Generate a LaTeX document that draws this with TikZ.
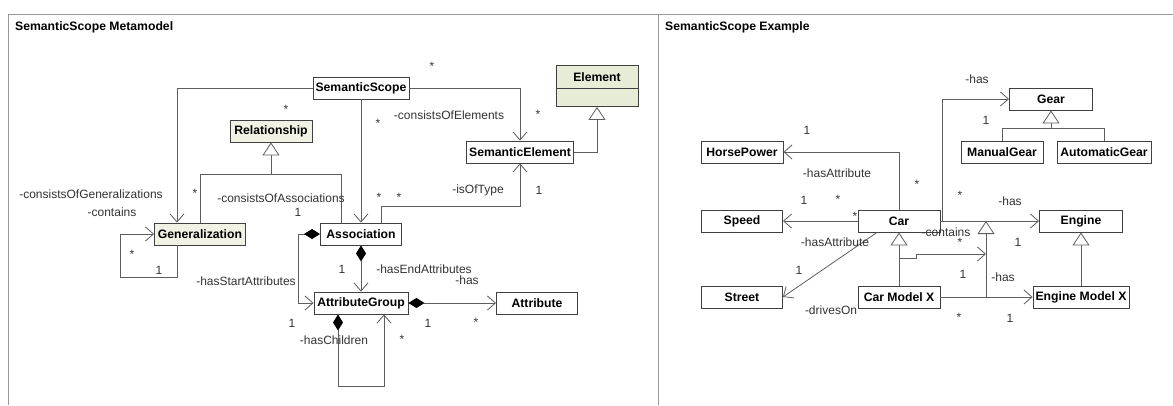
\documentclass[tikz,border=0pt]{standalone}
\usepackage{fontspec}
\setmainfont{Liberation Sans}
\usepackage{tikz}
\usetikzlibrary{arrows.meta}
\definecolor{elemfill}{HTML}{E6ECD6}
\definecolor{metafill}{HTML}{F1F2E4}
\definecolor{linegray}{HTML}{5E5E5E}
\tikzset{
    classbox/.style={
        rectangle,
        draw=black!75, line width=0.9pt,
        fill=white,
        minimum height=22pt,
        inner sep=1pt,
        font={\fontsize{12.2}{14}\selectfont\bfseries}
    },
    metabox/.style={classbox, fill=metafill},
    title/.style={anchor=west, inner sep=0pt, font={\fontsize{12.2}{14}\selectfont\bfseries}},
    role/.style={inner sep=0pt, text=black!80, font={\fontsize{12}{14}\selectfont}},
    mult/.style={role},
    line/.style={draw=linegray, line width=0.8pt},
    assoc/.style={line, -{Straight Barb[length=8pt, width=14pt]}},
    genarrow/.style={line, -{Triangle[open, length=13pt, width=17pt, fill=white]}},
    comp/.style={line, {Diamond[length=16pt, width=10pt, color=black]}-{Straight Barb[length=8pt, width=14pt]}},
    frame/.style={draw=black!40, line width=1pt},
}

\begin{document}
\begin{tikzpicture}[x=1pt, y=-1pt]

\useasboundingbox (0,0) rectangle (1173,405);
\fill[white] (0,0) rectangle (1173,405);

% panels
\draw[frame] (8,405) -- (8,14) -- (1173,14);
\draw[frame] (658,14) -- (658,405);
\node[title] (title-meta) at (15,27) {SemanticScope Metamodel};
\node[title] (title-example) at (665,27) {SemanticScope Example};

% metamodel
\node[classbox, minimum width=96] (semscope) at (361,88) {SemanticScope};
\node[classbox, fill=elemfill, minimum width=82, minimum height=41] (element) at (597,86) {};
\node[classbox, draw=none, fill=none] (element-name) at ([yshift=9pt]element.center) {Element};
\draw[draw=black!75, line width=0.9pt] ([yshift=-2pt]element.west) -- ([yshift=-2pt]element.east);
\node[metabox, minimum width=82] (relationship) at (271,131) {Relationship};
\node[classbox, minimum width=107] (semelement) at (520,152) {SemanticElement};
\node[metabox, minimum width=91] (generalization) at (200,234) {Generalization};
\node[classbox, minimum width=81] (association) at (361,234) {Association};
\node[classbox, minimum width=94] (attrgroup) at (361,303) {AttributeGroup};
\node[classbox, minimum width=81] (attribute) at (537,303) {Attribute};

\coordinate (reljoin) at (271,174);

\draw[assoc] (semscope.west) -| ([xshift=-23pt]generalization.north);
\draw[assoc] ([xshift=-23pt]generalization.south) -- ++(0,32) -- ++(-57,0) |- (generalization.west);
\draw[assoc] (semscope.south) -- (association.north);
\draw[assoc] (semscope.east) -| (semelement.north);
\draw[genarrow] (semelement.east) -| (element.south);
\draw[genarrow] (generalization.north) |- (reljoin) -- (relationship.south);
\draw[line] ([xshift=-20pt]association.north) |- (reljoin);
\draw[assoc] ([xshift=20pt]association.north) -- ++(0,-16) -| (semelement.south);
\draw[comp] (association.west) -- ++(-22,0) |- (attrgroup.west);
\draw[comp] (association.south) -- (attrgroup.north);
\draw[comp] (attrgroup.east) -- (attribute.west);
\draw[comp] ([xshift=-23pt]attrgroup.south) -- ++(0,72) -| ([xshift=23pt]attrgroup.south);

\foreach \px/\py/\r [count=\i] in {91/194/-consistsOfGeneralizations, 112/212/-contains,
    281/198/-consistsOfAssociations, 449/115/-consistsOfElements, 478/190/-isOfType,
    246/281/-hasStartAttributes, 424/269/-hasEndAttributes, 467/280/-has, 334/340/-hasChildren}
  \node[role] (role-meta-\i) at (\px,\py) {\r};

\foreach \px/\py/\m [count=\i] in {432/66/*, 286/109/*, 378/123/*, 538/114/*, 195/193/*,
    298/212/1, 132/254/*, 159/270/1, 379/197/*, 399/197/*, 539/190/1, 342/269/1,
    292/323/1, 428/323/1, 476/322/*, 402/339/*}
  \node[mult] (mult-meta-\i) at (\px,\py) {\m};

% example
\node[classbox, minimum width=83] (gear) at (1051,99) {Gear};
\node[classbox, minimum width=82] (manualgear) at (1002,152) {ManualGear};
\node[classbox, minimum width=94] (automaticgear) at (1104,152) {AutomaticGear};
\node[classbox, minimum width=82] (horsepower) at (742,152) {HorsePower};
\node[classbox, minimum width=81] (speed) at (742,221) {Speed};
\node[classbox, minimum width=82] (car) at (899,221) {Car};
\node[classbox, minimum width=81] (street) at (742,297) {Street};
\node[classbox, minimum width=82] (carmodel) at (899,297) {Car Model X};
\node[classbox, minimum width=83] (engine) at (1081,221) {Engine};
\node[classbox, minimum width=96] (enginemodel) at (1081,297) {Engine Model X};

\coordinate (gearjoin) at (1051,128);
\coordinate (gearfork) at ([xshift=2pt]car.east);
\coordinate (hasfork) at (986,297);
\coordinate (hastop) at (986,221);
\coordinate (containsstart) at (899,258);
\coordinate (containsend) at (986,254);

\draw[genarrow] (manualgear.north) |- (gearjoin) -- (gear.south);
\draw[line] (automaticgear.north) |- (gearjoin);
\draw[assoc] (car.north) |- (horsepower.east);
\draw[assoc] (car.west) -- (speed.east);
\draw[assoc] ([xshift=-22pt]car.south) -- (street.east);
\draw[assoc] (car.east) -- (engine.west);
\draw[assoc] (gearfork) |- (gear.west);
\draw[genarrow] (carmodel.north) -- (car.south);
\draw[genarrow] (enginemodel.north) -- (engine.south);
\draw[assoc] (carmodel.east) -- (enginemodel.west);
\draw[genarrow] (hasfork) -- (hastop);
\draw[assoc] (containsstart) -- ++(17,0) |- (containsend);

\foreach \px/\py/\r [count=\i] in {837/173/-hasAttribute, 835/242/-hasAttribute, 831/310/-drivesOn,
    977/79/-has, 1010/201/-has, 946/232/-contains, 1003/277/-has}
  \node[role] (role-ex-\i) at (\px,\py) {\r};

\foreach \px/\py/\m [count=\i] in {807/130/1, 917/184/*, 804/200/1, 838/199/*, 855/216/*,
    799/270/1, 986/120/1, 960/195/*, 960/242/*, 1018/242/1, 963/274/1, 959/317/*, 1010/318/1}
  \node[mult] (mult-ex-\i) at (\px,\py) {\m};

\end{tikzpicture}
\end{document}
